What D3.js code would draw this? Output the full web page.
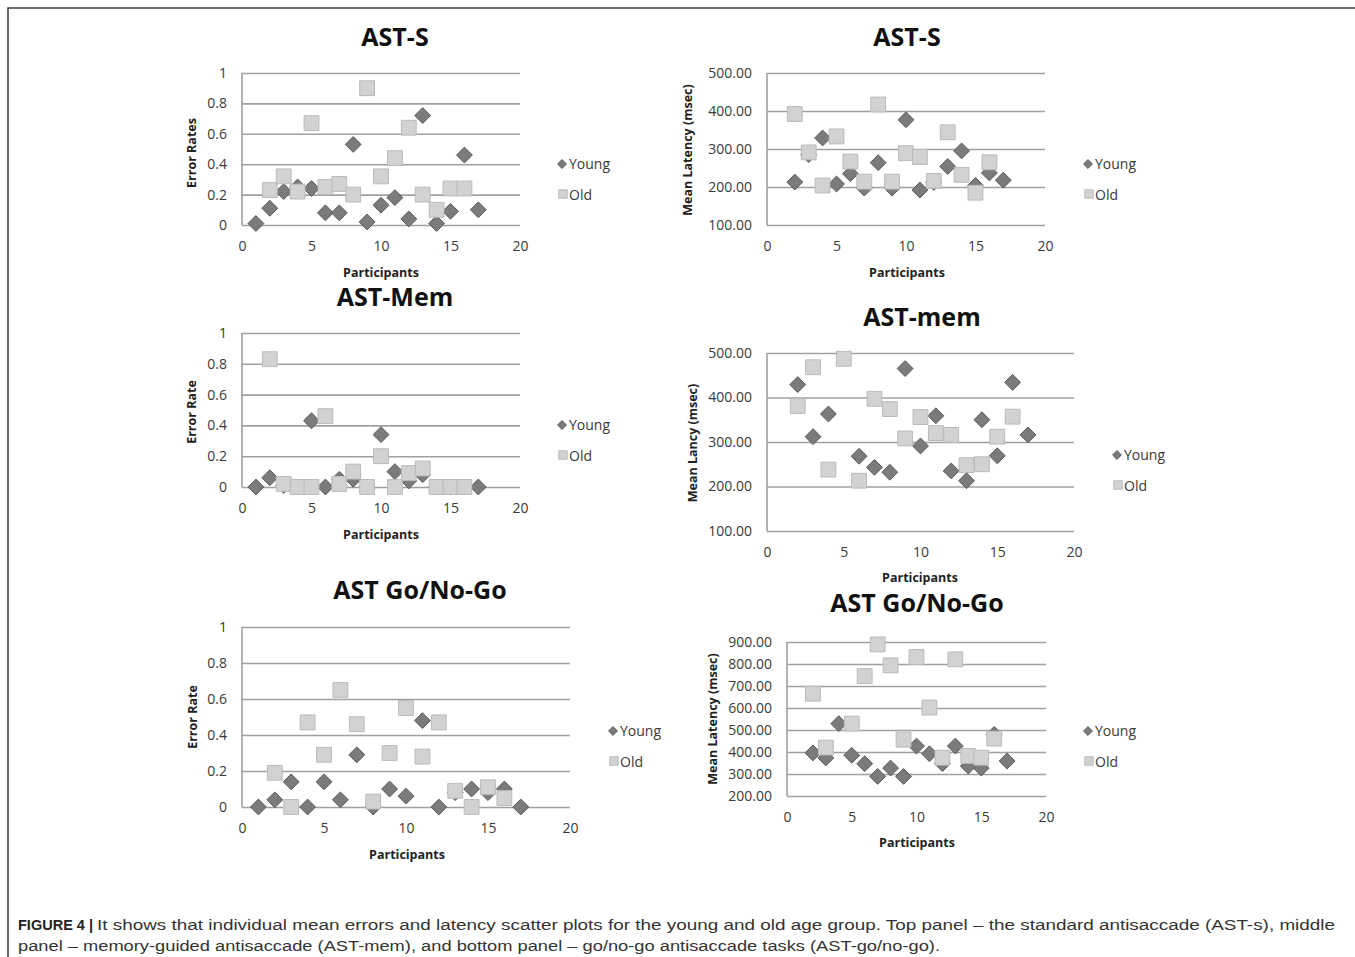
<!DOCTYPE html>
<html>
<head>
<meta charset="utf-8">
<script src="https://cdn.jsdelivr.net/npm/d3@7"></script>
<style>
  html, body { margin: 0; padding: 0; background: #fff; }
  svg { display: block; }
  .tick text { font-family: "Open Sans", sans-serif; fill: #3a3a3a; }
</style>
</head>
<body>
<script>
// ---- data: [participant, value] ----
const xTicks = [0, 5, 10, 15, 20];
const errTicks = [0, 0.2, 0.4, 0.6, 0.8, 1];
const latTicksA = [100, 200, 300, 400, 500];
const latTicksB = [200, 300, 400, 500, 600, 700, 800, 900];
const seriesNames = ["Young", "Old"];

const astsErrYoung = [[1,0.01],[2,0.11],[3,0.22],[4,0.25],[5,0.24],[6,0.08],[7,0.08],[8,0.53],[9,0.02],[10,0.13],[11,0.18],[12,0.04],[13,0.72],[14,0.01],[15,0.09],[16,0.46],[17,0.10]];
const astsErrOld = [[2,0.23],[3,0.32],[4,0.22],[5,0.67],[6,0.25],[7,0.27],[8,0.20],[9,0.90],[10,0.32],[11,0.44],[12,0.64],[13,0.20],[14,0.10],[15,0.24],[16,0.24]];

const astsLatYoung = [[2,213],[3,285],[4,329],[5,208],[6,235],[7,197],[8,264],[9,197],[10,377],[11,192],[12,212],[13,254],[14,295],[15,204],[16,237],[17,218]];
const astsLatOld = [[2,392],[3,291],[4,204],[5,333],[6,267],[7,214],[8,417],[9,214],[10,289],[11,279],[12,216],[13,344],[14,232],[15,185],[16,265]];

const memErrYoung = [[1,0],[2,0.06],[3,0.01],[4,0],[5,0.43],[6,0],[7,0.05],[8,0.05],[9,0],[10,0.34],[11,0.10],[12,0.04],[13,0.08],[14,0],[15,0],[16,0],[17,0]];
const memErrOld = [[2,0.83],[3,0.02],[4,0],[5,0],[6,0.46],[7,0.02],[8,0.10],[9,0],[10,0.20],[11,0],[12,0.09],[13,0.12],[14,0],[15,0],[16,0]];

const memLatYoung = [[2,429],[3,312],[4,363],[6,268],[7,243],[8,232],[9,465],[10,291],[11,359],[12,235],[13,213],[14,350],[15,269],[16,434],[17,316]];
const memLatOld = [[2,381],[3,468],[4,238],[5,487],[6,213],[7,397],[8,374],[9,308],[10,356],[11,320],[12,316],[13,248],[14,250],[15,312],[16,357]];

const gngErrYoung = [[1,0],[2,0.04],[3,0.14],[4,0],[5,0.14],[6,0.04],[7,0.29],[8,0],[9,0.10],[10,0.06],[11,0.48],[12,0],[13,0.08],[14,0.10],[15,0.08],[16,0.10],[17,0]];
const gngErrOld = [[2,0.19],[3,0],[4,0.47],[5,0.29],[6,0.65],[7,0.46],[8,0.03],[9,0.30],[10,0.55],[11,0.28],[12,0.47],[13,0.09],[14,0],[15,0.11],[16,0.05]];

const gngLatYoung = [[2,396],[3,373],[4,529],[5,385],[6,347],[7,289],[8,327],[9,289],[10,427],[11,392],[12,347],[13,427],[14,336],[15,327],[16,480],[17,359]];
const gngLatOld = [[2,665],[3,420],[5,529],[6,745],[7,889],[8,794],[9,456],[10,832],[11,602],[12,374],[13,821],[14,382],[15,374],[16,461]];

const captionLabel = "FIGURE 4 |";
const captionLines = [
  "It shows that individual mean errors and latency scatter plots for the young and old age group. Top panel \u2013 the standard antisaccade (AST-s), middle",
  "panel \u2013 memory-guided antisaccade (AST-mem), and bottom panel \u2013 go/no-go antisaccade tasks (AST-go/no-go)."
];

// ---- page ----
const W = 1355, H = 957;
const svg = d3.select("body").append("svg").attr("width", W).attr("height", H);
svg.append("rect").attr("width", W).attr("height", H).attr("fill", "#fff");

// frame (only top and left edges show in the crop)
svg.append("path")
  .attr("d", `M8,${H} V8 H${W}`)
  .attr("fill", "none").attr("stroke", "#3c3c3c").attr("stroke-width", 1.5);

const errFmt = d => d === 0 ? "0" : d === 1 ? "1" : d3.format(".1f")(d);
const latFmt = d3.format(".2f");

const panels = [
  { title: "AST-S", tx: 395, ty: 37, x0: 242, x1: 520, y0: 73, y1: 225, dom: [0, 1], ticks: errTicks, fmt: errFmt,
    ylab: "Error Rates", ylx: 192, yly: 153, xly: 273, xlx: 381, lx: 562, ly: 164, young: astsErrYoung, old: astsErrOld },
  { title: "AST-S", tx: 907, ty: 37, x0: 767, x1: 1045, y0: 73, y1: 225, dom: [100, 500], ticks: latTicksA, fmt: latFmt,
    ylab: "Mean Latency (msec)", ylx: 688, yly: 150, xly: 273, xlx: 907, lx: 1088, ly: 164, young: astsLatYoung, old: astsLatOld },
  { title: "AST-Mem", tx: 395, ty: 297, x0: 242, x1: 520, y0: 333, y1: 487, dom: [0, 1], ticks: errTicks, fmt: errFmt,
    ylab: "Error Rate", ylx: 192, yly: 412, xly: 535, xlx: 381, lx: 562, ly: 425, young: memErrYoung, old: memErrOld },
  { title: "AST-mem", tx: 922, ty: 317, x0: 767, x1: 1074, y0: 353, y1: 531, dom: [100, 500], ticks: latTicksA, fmt: latFmt,
    ylab: "Mean Lancy (msec)", ylx: 693, yly: 443, xly: 578, xlx: 920, lx: 1117, ly: 455, young: memLatYoung, old: memLatOld },
  { title: "AST Go/No-Go", tx: 420, ty: 590, x0: 242, x1: 570, y0: 627, y1: 807, dom: [0, 1], ticks: errTicks, fmt: errFmt,
    ylab: "Error Rate", ylx: 193, yly: 717, xly: 855, xlx: 407, lx: 613, ly: 731, young: gngErrYoung, old: gngErrOld },
  { title: "AST Go/No-Go", tx: 917, ty: 603, x0: 787, x1: 1046, y0: 642, y1: 796, dom: [200, 900], ticks: latTicksB, fmt: latFmt,
    ylab: "Mean Latency (msec)", ylx: 713, yly: 719, xly: 843, xlx: 917, lx: 1088, ly: 731, young: gngLatYoung, old: gngLatOld }
];

const gridColor = "#a0a0a0";
const youngFill = "#7b7b7b", youngStroke = "#5a5a5a";
const oldFill = "#d2d2d2", oldStroke = "#bababa";
const diamond = d3.symbol().type(d3.symbolDiamond2);
const square = d3.symbol().type(d3.symbolSquare2);

function drawPanel(p) {
  const g = svg.append("g");
  const x = d3.scaleLinear().domain([0, 20]).range([p.x0, p.x1]);
  const y = d3.scaleLinear().domain(p.dom).range([p.y1, p.y0]);

  // horizontal gridlines + y labels
  const ya = g.append("g")
    .attr("transform", `translate(${p.x0},0)`)
    .call(d3.axisLeft(y).tickValues(p.ticks).tickFormat(p.fmt)
      .tickSize(-(p.x1 - p.x0)).tickPadding(15));
  ya.select(".domain").remove();
  ya.selectAll(".tick line").attr("stroke", gridColor).attr("stroke-width", 1.6);
  ya.selectAll(".tick text").attr("font-size", 14);

  // vertical axis line
  g.append("line")
    .attr("x1", p.x0).attr("x2", p.x0).attr("y1", p.y0).attr("y2", p.y1)
    .attr("stroke", gridColor).attr("stroke-width", 1.6);

  // x labels
  const xa = g.append("g")
    .attr("transform", `translate(0,${p.y1})`)
    .call(d3.axisBottom(x).tickValues(xTicks).tickSize(0).tickPadding(16));
  xa.select(".domain").remove();
  xa.selectAll(".tick text").attr("font-size", 14);

  // markers: young first, old on top
  g.append("g").selectAll("path").data(p.young).join("path")
    .attr("transform", d => `translate(${x(d[0])},${y(d[1])})`)
    .attr("d", diamond.size(160))
    .attr("fill", youngFill).attr("stroke", youngStroke).attr("stroke-width", 1);
  g.append("g").selectAll("path").data(p.old).join("path")
    .attr("transform", d => `translate(${x(d[0])},${y(d[1])})`)
    .attr("d", square.size(280))
    .attr("fill", oldFill).attr("stroke", oldStroke).attr("stroke-width", 1);

  // title
  g.append("text")
    .attr("x", p.tx).attr("y", p.ty).attr("dy", "0.35em")
    .attr("text-anchor", "middle")
    .attr("font-family", "'Open Sans', sans-serif").attr("font-weight", 700)
    .attr("font-size", 25).attr("fill", "#111")
    .text(p.title);

  // axis titles
  g.append("text")
    .attr("transform", `translate(${p.ylx},${p.yly}) rotate(-90)`)
    .attr("dy", "0.35em").attr("text-anchor", "middle")
    .attr("font-family", "'Open Sans', sans-serif").attr("font-weight", 700)
    .attr("font-size", 12.5).attr("fill", "#222")
    .text(p.ylab);
  g.append("text")
    .attr("x", p.xlx).attr("y", p.xly).attr("dy", "0.35em")
    .attr("text-anchor", "middle")
    .attr("font-family", "'Open Sans', sans-serif").attr("font-weight", 700)
    .attr("font-size", 12.5).attr("fill", "#222")
    .text("Participants");

  // legend
  const lg = g.append("g").attr("transform", `translate(${p.lx},${p.ly})`);
  lg.append("path").attr("d", diamond.size(50)).attr("fill", youngFill).attr("stroke", youngStroke);
  lg.append("path").attr("transform", "translate(1,30)").attr("d", square.size(90))
    .attr("fill", oldFill).attr("stroke", oldStroke);
  lg.selectAll("text").data(seriesNames).join("text")
    .attr("x", 7).attr("y", (d, i) => i * 31).attr("dy", "0.35em")
    .attr("font-family", "'Open Sans', sans-serif").attr("font-size", 14).attr("fill", "#3a3a3a")
    .text(d => d);
}

panels.forEach(drawPanel);

// caption: narrow bold label, regular text stretched to the original line widths
const cap = svg.append("g").attr("font-family", "'Liberation Sans', Arial, sans-serif").attr("font-size", 15.5);
cap.append("text").attr("x", 18).attr("y", 930)
  .attr("font-weight", 700).attr("fill", "#222")
  .attr("textLength", 75).attr("lengthAdjust", "spacingAndGlyphs")
  .text(captionLabel);
const capRight = [1335, 940];
captionLines.forEach((line, i) => {
  const x0 = i === 0 ? 97 : 18;
  cap.append("text").attr("x", x0).attr("y", 930 + i * 21).attr("fill", "#333")
    .attr("textLength", capRight[i] - x0).attr("lengthAdjust", "spacingAndGlyphs")
    .text(line);
});
</script>
</body>
</html>
